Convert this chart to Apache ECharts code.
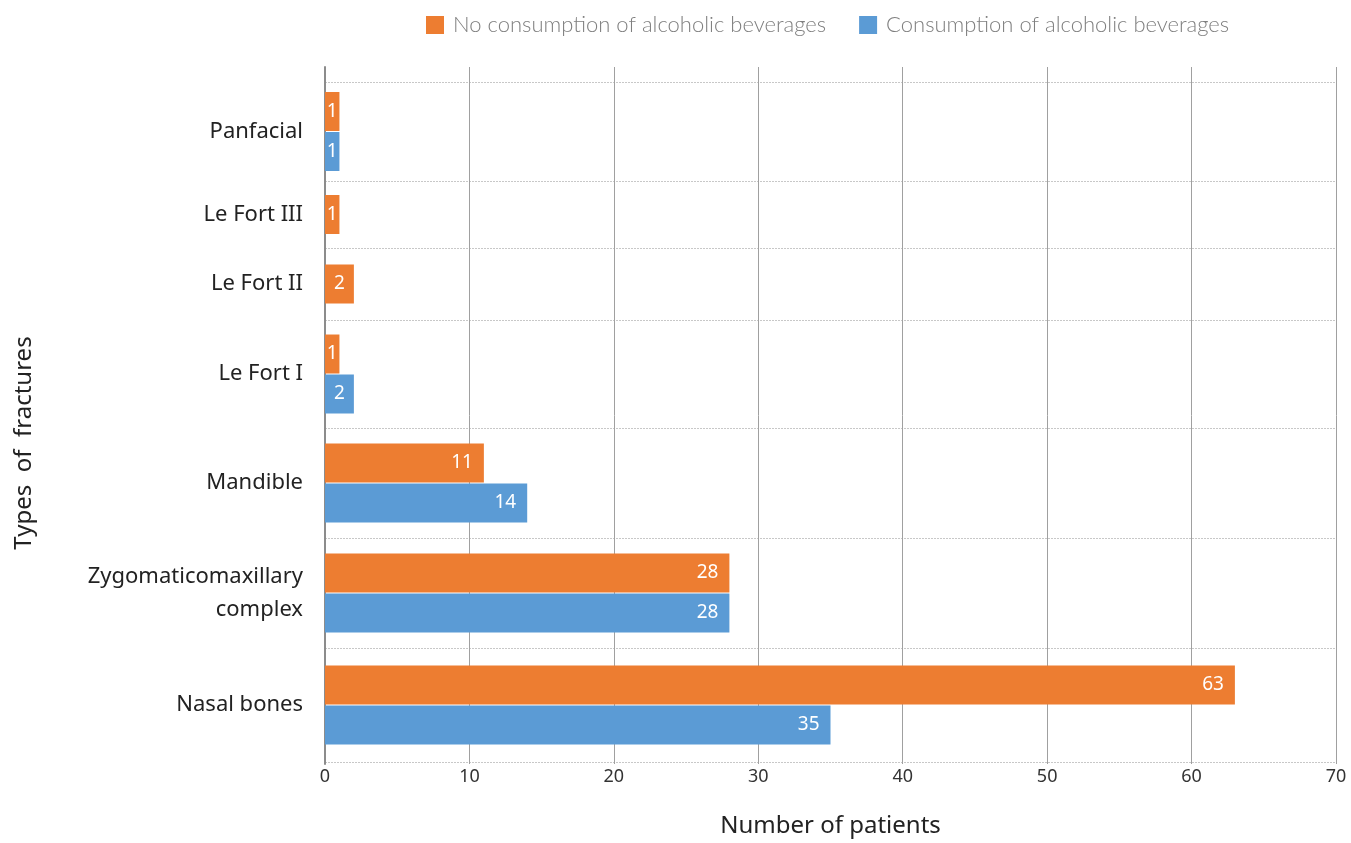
<!DOCTYPE html>
<html>
<head>
<meta charset="utf-8">
<title>Types of fractures by alcohol consumption</title>
<script src="https://cdn.jsdelivr.net/npm/echarts@6/dist/echarts.min.js"></script>
<style>
  html, body { margin: 0; padding: 0; background: #ffffff; }
  #chart { width: 1351px; height: 843px; }
</style>
</head>
<body>
<div id="chart"></div>
<script>
// Fracture types, listed top to bottom
const categories = [
  'Panfacial',
  'Le Fort III',
  'Le Fort II',
  'Le Fort I',
  'Mandible',
  'Zygomaticomaxillary\ncomplex',
  'Nasal bones'
];
// Patients per fracture type (null = no bar)
const noAlcohol = [1, 1, 2, 1, 11, 28, 63];
const alcohol = [1, null, null, 2, 14, 28, 35];
const seriesNames = ['No consumption of alcoholic beverages', 'Consumption of alcoholic beverages'];
const xTicks = { min: 0, max: 70, step: 10 };

// Layout: plot edges and the horizontal separators between fracture groups
const PLOT_LEFT = 325, PLOT_RIGHT = 15;
const FRAME_TOP = 67, FRAME_BOTTOM = 778;
const bandEdges = [82, 181, 248, 320, 428, 538, 648, 762];
const COLORS = ['#ED7D31', '#5B9BD5'];
const FONT = '"Noto Sans", "Open Sans", sans-serif';

const grids = [{ left: PLOT_LEFT, right: PLOT_RIGHT, top: FRAME_TOP, height: FRAME_BOTTOM - FRAME_TOP }];
const xAxes = [{
  type: 'value', gridIndex: 0, min: xTicks.min, max: xTicks.max, interval: xTicks.step,
  axisLine: { show: false }, axisTick: { show: false },
  splitLine: { show: true, lineStyle: { color: '#a0a0a0', width: 1 } },
  axisLabel: { margin: 4, fontSize: 18, color: '#333', fontFamily: FONT },
  name: 'Number of patients', nameLocation: 'middle', nameGap: 50,
  nameTextStyle: { fontSize: 24, color: '#222', fontFamily: FONT }
}];
const yAxes = [{
  type: 'value', gridIndex: 0, min: 0, max: 1,
  axisLine: { show: true, lineStyle: { color: '#8c8c8c', width: 2 } },
  axisTick: { show: false }, axisLabel: { show: false }, splitLine: { show: false }
}];
const series = [];

categories.forEach((cat, i) => {
  const g = i + 1;
  grids.push({ left: PLOT_LEFT, right: PLOT_RIGHT, top: bandEdges[i], height: bandEdges[i + 1] - bandEdges[i] });
  xAxes.push({ type: 'value', gridIndex: g, min: xTicks.min, max: xTicks.max, show: false });
  yAxes.push({
    type: 'category', gridIndex: g, data: [cat],
    axisLine: { show: false }, axisTick: { show: false },
    splitLine: { show: true, lineStyle: { color: '#c8c8c8', type: [2, 1], width: 1 } },
    axisLabel: { margin: 22, fontSize: 22, color: '#222', fontFamily: FONT, lineHeight: 33, align: 'right' }
  });
  [noAlcohol, alcohol].forEach((arr, s) => {
    const v = arr[i];
    if (v === null || v === undefined) return;
    series.push({
      type: 'bar', name: seriesNames[s], xAxisIndex: g, yAxisIndex: g,
      barWidth: 39, barGap: '2.5%',
      itemStyle: { color: COLORS[s] },
      label: {
        show: true, position: v <= 2 ? 'inside' : 'insideRight', distance: 11,
        color: '#fff', fontSize: 19, fontFamily: FONT
      },
      data: [v]
    });
  });
});

const chart = echarts.init(document.getElementById('chart'), null, { renderer: 'canvas' });
chart.setOption({
  animation: false,
  color: COLORS,
  legend: {
    data: seriesNames, left: 421, top: 9, itemWidth: 18, itemHeight: 18, itemGap: 33,
    icon: 'rect',
    textStyle: { fontSize: 22, color: '#7f7f7f', fontFamily: 'Lato, sans-serif', fontWeight: 300, padding: [0, 0, 0, 4] }
  },
  grid: grids,
  xAxis: xAxes,
  yAxis: yAxes,
  series: series,
  graphic: [{
    type: 'text', x: 24, y: 443, rotation: Math.PI / 2,
    style: {
      text: 'Types  of  fractures', fontSize: 24, fill: '#222', fontFamily: FONT,
      align: 'center', verticalAlign: 'middle'
    }
  }]
});
</script>
</body>
</html>
